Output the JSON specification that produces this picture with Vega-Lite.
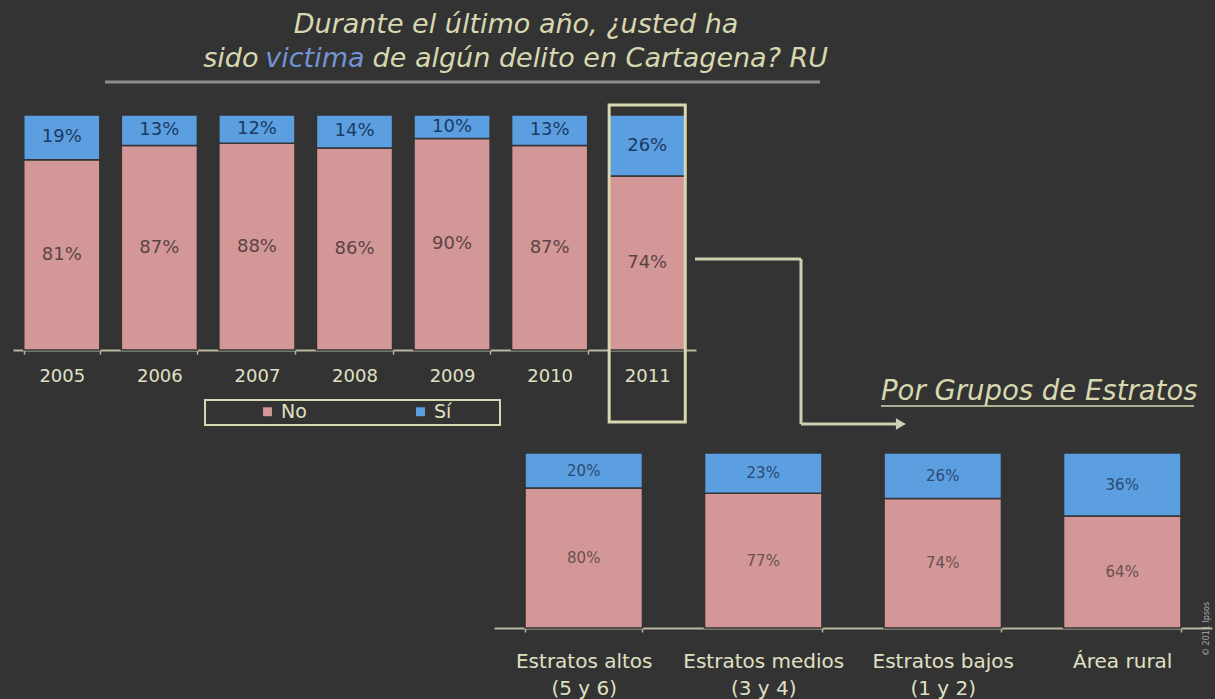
{
  "$schema": "https://vega.github.io/schema/vega-lite/v6.json",
  "width": 1215,
  "height": 699,
  "autosize": {"type": "none"},
  "padding": 0,
  "background": "#333333",
  "config": {"view": {"stroke": null}, "font": "DejaVu Sans"},
  "resolve": {
    "scale": {"x": "independent", "y": "independent"},
    "axis": {"x": "independent", "y": "independent"}
  },
  "layer": [
    {
      "data": {
        "values": [
          {"year": "2005", "resp": "No", "share": 0.81},
          {"year": "2005", "resp": "Sí", "share": 0.19},
          {"year": "2006", "resp": "No", "share": 0.87},
          {"year": "2006", "resp": "Sí", "share": 0.13},
          {"year": "2007", "resp": "No", "share": 0.88},
          {"year": "2007", "resp": "Sí", "share": 0.12},
          {"year": "2008", "resp": "No", "share": 0.86},
          {"year": "2008", "resp": "Sí", "share": 0.14},
          {"year": "2009", "resp": "No", "share": 0.90},
          {"year": "2009", "resp": "Sí", "share": 0.10},
          {"year": "2010", "resp": "No", "share": 0.87},
          {"year": "2010", "resp": "Sí", "share": 0.13},
          {"year": "2011", "resp": "No", "share": 0.74},
          {"year": "2011", "resp": "Sí", "share": 0.26}
        ]
      },
      "layer": [
        {
          "mark": {"type": "bar", "stroke": "#333333", "strokeWidth": 1.5},
          "encoding": {
            "x": {
              "field": "year", "type": "nominal", "sort": null,
              "scale": {"range": [13, 696], "paddingInner": 0.22, "paddingOuter": 0.11},
              "axis": {
                "orient": "bottom", "offset": -349, "title": null, "labelAngle": 0,
                "labelFont": "DejaVu Sans", "labelFontSize": 18, "labelColor": "#e0e0c4",
                "labelPadding": 13, "tickSize": 4, "tickBand": "extent",
                "domainColor": "#b8b8a0", "domainWidth": 2, "tickColor": "#b8b8a0", "tickWidth": 1.5
              }
            },
            "y": {
              "field": "share", "type": "quantitative", "stack": "zero",
              "scale": {"domain": [0, 1], "range": [350, 115], "nice": false, "zero": false},
              "axis": null
            },
            "color": {
              "field": "resp", "type": "nominal",
              "scale": {"domain": ["No", "Sí"], "range": ["#d39797", "#5b9fe0"]},
              "legend": {
                "orient": "none", "legendX": 258, "legendY": 402, "direction": "horizontal",
                "title": null, "labelFont": "DejaVu Sans", "labelFontSize": 19, "labelColor": "#e0e0c4",
                "symbolType": "square", "symbolSize": 80, "symbolStrokeWidth": 0,
                "columnPadding": 104, "padding": 0, "labelOffset": 4
              }
            },
            "order": {"field": "resp", "type": "ordinal", "sort": "ascending"}
          }
        },
        {
          "mark": {"type": "text", "fontSize": 18, "font": "DejaVu Sans", "baseline": "middle"},
          "encoding": {
            "x": {"field": "year", "type": "nominal", "sort": null},
            "y": {"field": "share", "type": "quantitative", "stack": "zero", "bandPosition": 0.5},
            "detail": {"field": "resp"},
            "order": {"field": "resp", "type": "ordinal", "sort": "ascending"},
            "text": {"field": "share", "format": ".0%"},
            "color": {"condition": {"test": "datum.resp === 'Sí'", "value": "#1c3a62"}, "value": "#5a4444"}
          }
        },
        {
          "data": {"values": [{}]},
          "mark": {"type": "bar", "filled": false, "stroke": "#d8d8b0", "strokeWidth": 3},
          "encoding": {
            "x": {"datum": "2011", "type": "nominal"},
            "y": {"datum": 1.043, "type": "quantitative"},
            "y2": {"datum": -0.306}
          }
        }
      ]
    },
    {
      "data": {
        "values": [
          {"grupo": "Estratos altos (5 y 6)", "resp": "No", "share": 0.80},
          {"grupo": "Estratos altos (5 y 6)", "resp": "Sí", "share": 0.20},
          {"grupo": "Estratos medios (3 y 4)", "resp": "No", "share": 0.77},
          {"grupo": "Estratos medios (3 y 4)", "resp": "Sí", "share": 0.23},
          {"grupo": "Estratos bajos (1 y 2)", "resp": "No", "share": 0.74},
          {"grupo": "Estratos bajos (1 y 2)", "resp": "Sí", "share": 0.26},
          {"grupo": "Área rural", "resp": "No", "share": 0.64},
          {"grupo": "Área rural", "resp": "Sí", "share": 0.36}
        ]
      },
      "layer": [
        {
          "mark": {"type": "bar", "stroke": "#333333", "strokeWidth": 1.5},
          "encoding": {
            "x": {
              "field": "grupo", "type": "nominal", "sort": null,
              "scale": {"range": [494, 1212], "paddingInner": 0.346, "paddingOuter": 0.173},
              "axis": {
                "orient": "bottom", "offset": -71, "title": null, "labelAngle": 0,
                "labelExpr": "indexof(datum.label, ' (') > 0 ? [substring(datum.label, 0, indexof(datum.label, ' (')), substring(datum.label, indexof(datum.label, ' (') + 1)] : datum.label",
                "labelFont": "DejaVu Sans", "labelFontSize": 20, "labelColor": "#e0e0c4", "labelLineHeight": 27,
                "labelPadding": 19, "tickSize": 4, "tickBand": "extent",
                "domainColor": "#b8b8a0", "domainWidth": 2, "tickColor": "#b8b8a0", "tickWidth": 1.5
              }
            },
            "y": {
              "field": "share", "type": "quantitative", "stack": "zero",
              "scale": {"domain": [0, 1], "range": [628, 453], "nice": false, "zero": false},
              "axis": null
            },
            "color": {"field": "resp", "type": "nominal"},
            "order": {"field": "resp", "type": "ordinal", "sort": "ascending"}
          }
        },
        {
          "mark": {"type": "text", "fontSize": 15, "font": "DejaVu Sans", "baseline": "middle"},
          "encoding": {
            "x": {"field": "grupo", "type": "nominal", "sort": null},
            "y": {"field": "share", "type": "quantitative", "stack": "zero", "bandPosition": 0.5},
            "detail": {"field": "resp"},
            "order": {"field": "resp", "type": "ordinal", "sort": "ascending"},
            "text": {"field": "share", "format": ".0%"},
            "color": {"condition": {"test": "datum.resp === 'Sí'", "value": "#2a4a70"}, "value": "#6a5050"}
          }
        }
      ]
    },
    {
      "data": {"values": [{}]},
      "layer": [
        {
          "mark": {"type": "text", "text": "Durante el último año, ¿usted ha", "font": "DejaVu Sans", "fontStyle": "italic", "fontSize": 27, "color": "#d8d8b0", "align": "center", "baseline": "alphabetic"},
          "encoding": {
            "x": {"datum": 5.155, "type": "quantitative", "scale": {"domain": [0, 7], "range": [13, 696], "nice": false, "zero": false}, "axis": null},
            "y": {"datum": 134.9, "type": "quantitative", "scale": {"domain": [0, 100], "range": [350, 115], "nice": false, "zero": false}, "axis": null}
          }
        },
        {
          "mark": {"type": "text", "text": "sido", "font": "DejaVu Sans", "fontStyle": "italic", "fontSize": 27, "color": "#d8d8b0", "align": "left", "baseline": "alphabetic"},
          "encoding": {"x": {"datum": 1.95, "type": "quantitative"}, "y": {"datum": 120.4, "type": "quantitative"}}
        },
        {
          "mark": {"type": "text", "text": "victima", "font": "DejaVu Sans", "fontStyle": "italic", "fontSize": 27, "color": "#7394d4", "align": "left", "baseline": "alphabetic"},
          "encoding": {"x": {"datum": 2.585, "type": "quantitative"}, "y": {"datum": 120.4, "type": "quantitative"}}
        },
        {
          "mark": {"type": "text", "text": "de algún delito en Cartagena? RU", "font": "DejaVu Sans", "fontStyle": "italic", "fontSize": 27, "color": "#d8d8b0", "align": "left", "baseline": "alphabetic"},
          "encoding": {"x": {"datum": 3.685, "type": "quantitative"}, "y": {"datum": 120.4, "type": "quantitative"}}
        },
        {
          "mark": {"type": "rule", "color": "#8c8c8c", "strokeWidth": 3},
          "encoding": {"x": {"datum": 0.943, "type": "quantitative"}, "x2": {"datum": 8.271}, "y": {"datum": 114, "type": "quantitative"}}
        },
        {
          "mark": {"type": "rule", "color": "#d0d0b0", "strokeWidth": 3},
          "encoding": {"x": {"datum": 6.99, "type": "quantitative"}, "x2": {"datum": 8.076}, "y": {"datum": 38.7, "type": "quantitative"}}
        },
        {
          "mark": {"type": "rule", "color": "#d0d0b0", "strokeWidth": 3},
          "encoding": {"x": {"datum": 8.076, "type": "quantitative"}, "y": {"datum": 38.7, "type": "quantitative"}, "y2": {"datum": -31.5}}
        },
        {
          "mark": {"type": "rule", "color": "#d0d0b0", "strokeWidth": 3},
          "encoding": {"x": {"datum": 8.076, "type": "quantitative"}, "x2": {"datum": 9.05}, "y": {"datum": -31.5, "type": "quantitative"}}
        },
        {
          "mark": {"type": "point", "shape": "triangle-right", "filled": true, "size": 130, "color": "#d0d0b0", "opacity": 1},
          "encoding": {"x": {"datum": 9.1, "type": "quantitative"}, "y": {"datum": -31.5, "type": "quantitative"}}
        },
        {
          "mark": {"type": "rect", "filled": false, "stroke": "#d8d8b0", "strokeWidth": 2},
          "encoding": {"x": {"datum": 1.968, "type": "quantitative"}, "x2": {"datum": 4.991}, "y": {"datum": -21.3, "type": "quantitative"}, "y2": {"datum": -31.9}}
        },
        {
          "mark": {"type": "text", "text": "Por Grupos de Estratos", "font": "DejaVu Sans", "fontStyle": "italic", "fontSize": 27.5, "color": "#d8d8b0", "align": "left", "baseline": "alphabetic"},
          "encoding": {"x": {"datum": 8.896, "type": "quantitative"}, "y": {"datum": -21.3, "type": "quantitative"}}
        },
        {
          "mark": {"type": "rule", "color": "#d8d8b0", "strokeWidth": 1.5},
          "encoding": {"x": {"datum": 8.896, "type": "quantitative"}, "x2": {"datum": 12.104}, "y": {"datum": -23.8, "type": "quantitative"}}
        },
        {
          "mark": {"type": "text", "text": "© 2011 Ipsos", "font": "DejaVu Sans", "fontSize": 8, "color": "#aaaaaa", "align": "center", "baseline": "middle", "angle": 270},
          "encoding": {"x": {"datum": 12.237, "type": "quantitative"}, "y": {"datum": -118.7, "type": "quantitative"}}
        }
      ]
    }
  ]
}
